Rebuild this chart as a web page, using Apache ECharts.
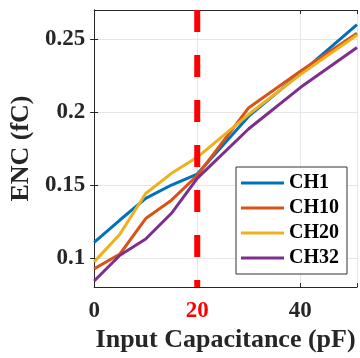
<!DOCTYPE html>
<html>
<head>
<meta charset="utf-8">
<script src="https://cdn.jsdelivr.net/npm/echarts@6/dist/echarts.min.js"></script>
<style>html,body{margin:0;padding:0;background:#fff}#c{width:360px;height:358px}</style>
</head>
<body>
<div id="c"></div>
<script>
const capacitance = [0, 5, 10, 15, 20, 30, 40, 51];
const ch1  = [0.1107, 0.126, 0.1408, 0.150, 0.1575, 0.1972, 0.2266, 0.2600];
const ch10 = [0.0925, 0.1027, 0.127, 0.1396, 0.1565, 0.2030, 0.2280, 0.2540];
const ch20 = [0.0973, 0.1163, 0.1442, 0.1580, 0.1690, 0.1985, 0.2257, 0.2528];
const ch32 = [0.0842, 0.1018, 0.1130, 0.1306, 0.1545, 0.1886, 0.2168, 0.2443];
const yTicks = [0.1, 0.15, 0.2, 0.25];
const xTicks = [0, 20, 40];
const markerX = 20;
const seriesNames = ['CH1', 'CH10', 'CH20', 'CH32'];
const seriesValues = [ch1, ch10, ch20, ch32];
const colors = ['#0072BD', '#D95319', '#EDB120', '#7E2F8E'];

const FONT = 'Liberation Serif';
const TXT = '#262626';
const chart = echarts.init(document.getElementById('c'), null, {renderer: 'canvas'});

const series = seriesNames.map((n, i) => ({
  name: n, type: 'line', showSymbol: false, symbol: 'none',
  data: capacitance.map((x, j) => [x, seriesValues[i][j]]),
  lineStyle: {width: 3, color: colors[i]}, itemStyle: {color: colors[i]},
  z: 3
}));
series.push({
  type: 'line', symbol: 'none', silent: true,
  data: [[markerX, 0.27], [markerX, 0.08]],
  lineStyle: {width: 6, color: '#FF0000', type: [22, 23]},
  z: 5
});

const axisLine = {show: true, lineStyle: {color: TXT, width: 1}};
chart.setOption({
  animation: false,
  color: colors,
  grid: {left: 92, top: 10, right: 2, bottom: 69, containLabel: false},
  legend: {
    data: seriesNames, orient: 'vertical', left: 236, top: 167,
    icon: 'rect', itemWidth: 43, itemHeight: 3, itemGap: 5,
    padding: [6, 8, 6, 5],
    backgroundColor: '#fff', borderColor: '#333', borderWidth: 1,
    textStyle: {fontFamily: FONT, fontWeight: 'bold', fontSize: 20, color: '#000', lineHeight: 20}
  },
  xAxis: [{
    type: 'value', min: 0, max: 51, interval: 20,
    name: 'Input Capacitance (pF)', nameLocation: 'middle', nameGap: 38,
    nameTextStyle: {fontFamily: FONT, fontWeight: 'bold', fontSize: 26, color: TXT},
    axisLine: axisLine,
    axisTick: {show: true, inside: true, length: 4, lineStyle: {color: TXT}},
    axisLabel: {
      margin: 12, fontFamily: FONT, fontWeight: 'bold', fontSize: 23, color: TXT,
      formatter: v => xTicks.indexOf(v) < 0 ? '' : (v === markerX ? '{r|' + v + '}' : String(v)),
      rich: {r: {color: '#FF0000', fontFamily: FONT, fontWeight: 'bold', fontSize: 23}}
    },
    splitLine: {show: true, lineStyle: {color: '#e6e6e6', width: 1}}
  }, {
    type: 'value', position: 'top', min: 0, max: 51, interval: 20,
    axisLine: axisLine,
    axisTick: {show: true, inside: true, length: 4, lineStyle: {color: TXT}},
    axisLabel: {show: false}, splitLine: {show: false}
  }],
  yAxis: [{
    type: 'value', min: 0.08, max: 0.27,
    name: 'ENC (fC)', nameLocation: 'middle', nameGap: 50,
    nameTextStyle: {fontFamily: FONT, fontWeight: 'bold', fontSize: 26, color: TXT},
    axisLine: axisLine,
    axisTick: {show: true, inside: true, length: 4, lineStyle: {color: TXT}, customValues: yTicks},
    axisLabel: {margin: 9, fontFamily: FONT, fontWeight: 'bold', fontSize: 23, color: TXT, customValues: yTicks},
    splitLine: {show: true, lineStyle: {color: '#e6e6e6', width: 1}}
  }, {
    type: 'value', position: 'right', min: 0.08, max: 0.27,
    axisLine: axisLine,
    axisTick: {show: true, inside: true, length: 4, lineStyle: {color: TXT}, customValues: yTicks},
    axisLabel: {show: false, customValues: yTicks}, splitLine: {show: false}
  }],
  series: series
});
</script>
</body>
</html>
